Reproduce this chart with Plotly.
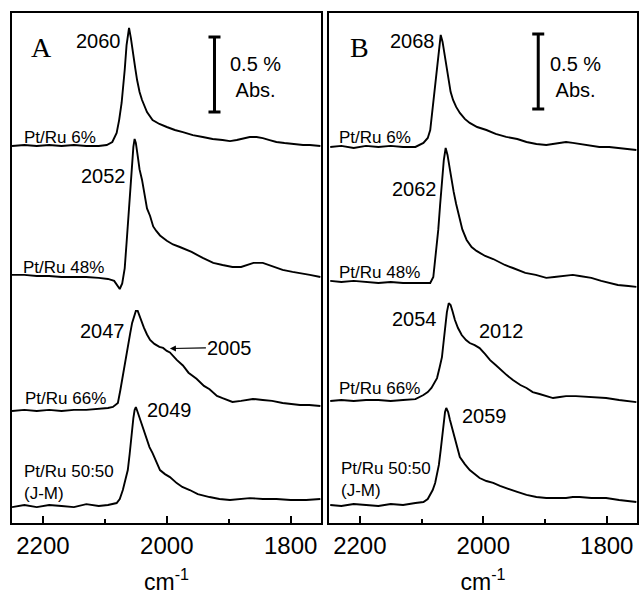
import plotly.graph_objects as go

# ---------------- data (wavenumber in cm-1, absorbance in % relative to each baseline) -------------
A1_WN = [2250,2230,2210,2190,2170,2150,2130,2110,2097,2088,2081,2077,2073,2070,2068,2065,2061,2058,2055,2051,2048,2044,2040,2036,2032,2023,2012,2000,1987,1974,1958,1942,1926,1910,1898,1887,1876,1866,1855,1845,1834,1823,1810,1797,1780,1769,1752]
A1_ABS = [0,0.007,0,0.007,0,0.007,0,0,0.007,0.027,0.087,0.173,0.287,0.407,0.507,0.673,0.787,0.720,0.620,0.520,0.440,0.360,0.307,0.260,0.227,0.173,0.147,0.127,0.107,0.093,0.073,0.060,0.047,0.040,0.033,0.040,0.053,0.060,0.060,0.053,0.040,0.027,0.020,0.013,0.007,0.007,0.000]

A2_WN = [2250,2230,2210,2190,2170,2150,2130,2110,2095,2085,2080,2076,2072,2068,2065,2062,2059,2057,2054,2052,2050,2047,2044,2040,2036,2032,2027,2022,2017,2011,2000,1990,1979,1960,1942,1925,1910,1894,1880,1870,1860,1845,1830,1813,1797,1785,1769,1752]
A2_ABS = [0.007,0.007,0,0,-0.007,-0.007,-0.007,-0.013,-0.020,-0.033,-0.060,-0.087,-0.050,0.050,0.220,0.400,0.580,0.720,0.860,0.913,0.887,0.800,0.710,0.640,0.540,0.450,0.400,0.330,0.300,0.270,0.235,0.210,0.193,0.160,0.120,0.087,0.073,0.060,0.060,0.073,0.087,0.087,0.067,0.040,0.027,0.020,0.007,-0.007]

A3_WN = [2250,2230,2210,2190,2170,2150,2130,2110,2095,2087,2082,2079,2075,2071,2068,2063,2059,2056,2053,2050,2047,2044,2041,2037,2032,2027,2020,2012,2006,2000,1995,1984,1974,1965,1952,1940,1931,1919,1910,1894,1880,1861,1845,1830,1813,1797,1785,1770,1752]
A3_ABS = [0,0.007,0,0.007,0,0.007,0.007,0.013,0.020,0.027,0.040,0.053,0.140,0.240,0.320,0.427,0.520,0.587,0.633,0.667,0.667,0.633,0.593,0.555,0.510,0.473,0.447,0.427,0.420,0.400,0.390,0.340,0.303,0.255,0.215,0.167,0.145,0.100,0.085,0.060,0.067,0.080,0.073,0.067,0.053,0.047,0.040,0.040,0.033]

A4_WN = [2250,2230,2210,2190,2170,2150,2130,2110,2095,2085,2081,2076,2071,2067,2063,2060,2057,2054,2052,2050,2047,2044,2040,2036,2032,2028,2023,2017,2011,2003,1995,1984,1975,1963,1950,1931,1915,1898,1880,1866,1845,1823,1800,1775,1752]
A4_ABS = [-0.007,0.007,-0.007,0.007,0,-0.007,0.013,0,0.007,0.013,0.020,0.047,0.107,0.173,0.240,0.347,0.480,0.587,0.640,0.660,0.625,0.590,0.545,0.493,0.440,0.393,0.353,0.293,0.240,0.213,0.193,0.153,0.127,0.107,0.080,0.060,0.047,0.040,0.047,0.053,0.047,0.047,0.040,0.040,0.047]

B1_WN = [2248,2230,2210,2190,2170,2150,2130,2110,2097,2090,2086,2081,2078,2075,2072,2069,2066,2062,2057,2053,2049,2044,2038,2030,2022,2010,1995,1980,1963,1945,1930,1914,1898,1885,1876,1866,1855,1844,1828,1812,1796,1780,1765,1752]
B1_ABS = [0,0.007,-0.007,0.007,0,0.007,0,0,0.027,0.060,0.113,0.293,0.413,0.533,0.660,0.747,0.700,0.587,0.447,0.367,0.313,0.267,0.227,0.187,0.160,0.133,0.113,0.087,0.067,0.053,0.033,0.020,0.013,0.020,0.027,0.033,0.027,0.020,0.013,0,0,-0.007,-0.013,-0.020]

B2_WN = [2248,2230,2210,2190,2170,2150,2130,2110,2095,2086,2081,2077,2073,2070,2067,2064,2061,2058,2054,2051,2048,2044,2040,2034,2027,2019,2011,1997,1984,1965,1952,1932,1915,1898,1885,1868,1855,1844,1825,1809,1795,1782,1765,1752]
B2_ABS = [0.007,0,0.007,0,-0.007,0,-0.007,-0.007,-0.007,-0.007,0.033,0.180,0.347,0.513,0.680,0.813,0.893,0.847,0.747,0.660,0.600,0.520,0.450,0.350,0.280,0.233,0.207,0.173,0.153,0.113,0.093,0.060,0.047,0.027,0.033,0.040,0.047,0.040,0.027,0.007,-0.007,-0.020,-0.027,-0.033]

B3_WN = [2248,2230,2210,2190,2170,2150,2130,2110,2097,2090,2084,2080,2075,2071,2067,2064,2062,2059,2056,2053,2050,2046,2041,2035,2028,2022,2014,2006,1997,1989,1980,1973,1962,1952,1940,1930,1920,1909,1898,1887,1876,1866,1850,1833,1815,1801,1780,1765,1752]
B3_ABS = [0,0.007,0,0.007,0.007,0,0.007,0.013,0.040,0.060,0.087,0.113,0.153,0.220,0.293,0.407,0.493,0.593,0.653,0.640,0.600,0.540,0.487,0.440,0.407,0.387,0.373,0.353,0.313,0.273,0.240,0.213,0.173,0.140,0.107,0.087,0.060,0.047,0.033,0.020,0.027,0.033,0.033,0.027,0.020,0.020,0.007,0,-0.007]

B4_WN = [2248,2230,2210,2190,2170,2150,2130,2110,2097,2090,2086,2082,2078,2075,2072,2069,2067,2064,2062,2060,2057,2054,2050,2046,2042,2038,2030,2022,2014,2006,1995,1984,1973,1962,1945,1930,1914,1898,1880,1866,1855,1844,1825,1801,1780,1765,1752]
B4_ABS = [0,-0.007,0.007,0,-0.007,0.007,0,0.013,0.020,0.040,0.067,0.100,0.147,0.200,0.267,0.367,0.453,0.567,0.620,0.647,0.620,0.567,0.500,0.433,0.373,0.320,0.273,0.233,0.207,0.180,0.160,0.147,0.127,0.113,0.087,0.067,0.053,0.047,0.047,0.047,0.053,0.053,0.047,0.047,0.033,0.027,0.020]

OFFSETS_A = [2.513, 1.647, 0.747, 0.113]
OFFSETS_B = [2.507, 1.607, 0.813, 0.120]

SAMPLE_LABELS = ["Pt/Ru 6%", "Pt/Ru 48%", "Pt/Ru 66%", "Pt/Ru 50:50<br>(J-M)"]

X_RANGE = [2250, 1751]
Y_RANGE = [0, 3.4]
MAJOR_TICKS = [2200, 2000, 1800]
MINOR_TICKS = [2100, 1900]

SCALE_BAR_LEN = 0.5          # % Abs
SCALE_BAR_A = (1923, 2.99)   # (wavenumber, centre)
SCALE_BAR_B = (1911, 3.01)

# peak labels: (text, wavenumber, y, xanchor)
PEAKS_A = [("2060", 2071, 3.213, "right"), ("2052", 2063, 2.313, "right"),
           ("2047", 2064, 1.280, "right"), ("2049", 2036, 0.753, "left")]
PEAKS_B = [("2068", 2075, 3.213, "right"), ("2062", 2072, 2.227, "right"),
           ("2054", 2072, 1.360, "right"), ("2012", 1971, 1.280, "center"),
           ("2059", 2037, 0.713, "left")]
SAMPLE_POS_A = [(2234, 2.573), (2235, 1.703), (2232, 0.833), (2234, 0.27)]
SAMPLE_POS_B = [(2237, 2.567), (2237, 1.667), (2237, 0.900), (2233, 0.287)]

SANS = "Liberation Sans, Arial, Helvetica, sans-serif"
SERIF = "Liberation Serif, Times New Roman, serif"

fig = go.Figure()

panels = [
    ("x", "y", [(A1_WN, A1_ABS), (A2_WN, A2_ABS), (A3_WN, A3_ABS), (A4_WN, A4_ABS)], OFFSETS_A),
    ("x2", "y2", [(B1_WN, B1_ABS), (B2_WN, B2_ABS), (B3_WN, B3_ABS), (B4_WN, B4_ABS)], OFFSETS_B),
]
for xa, ya, spectra, offs in panels:
    for (wn, ab), off in zip(spectra, offs):
        assert len(wn) == len(ab)
        fig.add_trace(go.Scatter(x=wn, y=[v + off for v in ab], mode="lines",
                                 line=dict(color="black", width=1.9),
                                 xaxis=xa, yaxis=ya, showlegend=False, hoverinfo="skip"))

# scale bars
for (wn, yc), xa, ya in [(SCALE_BAR_A, "x", "y"), (SCALE_BAR_B, "x2", "y2")]:
    fig.add_trace(go.Scatter(x=[wn], y=[yc], mode="markers",
                             marker=dict(size=1, color="rgba(0,0,0,0)"),
                             error_y=dict(type="data", array=[SCALE_BAR_LEN / 2], symmetric=True,
                                          width=6, thickness=3, color="black"),
                             xaxis=xa, yaxis=ya, showlegend=False, hoverinfo="skip"))

ann = []
def txt(text, x, y, xref, yref, size=20, xanchor="center", family=SANS, align="left"):
    ann.append(dict(text=text, x=x, y=y, xref=xref, yref=yref, showarrow=False,
                    xanchor=xanchor, yanchor="middle", align=align,
                    font=dict(size=size, family=family, color="black")))

# panel letters
txt("A", 2202, 3.167, "x", "y", size=28, family=SERIF)
txt("B", 2200, 3.167, "x2", "y2", size=28, family=SERIF)
# scale bar texts
txt("0.5 %<br>Abs.", 1856, 2.975, "x", "y", size=20, align="center")
txt("0.5 %<br>Abs.", 1850, 2.975, "x2", "y2", size=20, align="center")

for t, x, y, anc in PEAKS_A:
    txt(t, x, y, "x", "y", size=20, xanchor=anc)
for t, x, y, anc in PEAKS_B:
    txt(t, x, y, "x2", "y2", size=20, xanchor=anc)
for lab, (x, y) in zip(SAMPLE_LABELS, SAMPLE_POS_A):
    txt(lab, x, y, "x", "y", size=17, xanchor="left")
for lab, (x, y) in zip(SAMPLE_LABELS, SAMPLE_POS_B):
    txt(lab, x, y, "x2", "y2", size=17, xanchor="left")

# shoulder 2005 with arrow
ann.append(dict(text="2005", x=1995, y=1.163, xref="x", yref="y", showarrow=True,
                ax=60, ay=-1, arrowhead=2, arrowsize=1, arrowwidth=1.2, arrowcolor="black",
                standoff=0, xanchor="center", yanchor="middle",
                font=dict(size=20, family=SANS, color="black")))

axis_common = dict(range=X_RANGE, showgrid=False, zeroline=False, showline=True, mirror=True,
                   linecolor="black", linewidth=1.5, ticks="inside", ticklen=7, tickwidth=1.5,
                   tickcolor="black", tickvals=MAJOR_TICKS,
                   minor=dict(tickvals=MINOR_TICKS, ticks="inside", ticklen=4, tickwidth=1.5,
                              tickcolor="black"),
                   tickfont=dict(size=24, family=SANS, color="black"),
                   title=dict(text="cm<sup>-1</sup>", font=dict(size=23, family=SANS, color="black"),
                              standoff=18))
yaxis_common = dict(range=Y_RANGE, showgrid=False, zeroline=False, showline=True, mirror=True,
                    linecolor="black", linewidth=1.5, ticks="", showticklabels=False)

fig.update_layout(
    width=639, height=595,
    margin=dict(l=12, r=2, t=13, b=72, autoexpand=False),
    paper_bgcolor="white", plot_bgcolor="white",
    xaxis=dict(domain=[0, 0.4944], anchor="y", **axis_common),
    xaxis2=dict(domain=[0.5072, 1.0], anchor="y2", **axis_common),
    yaxis=dict(domain=[0, 1], anchor="x", **yaxis_common),
    yaxis2=dict(domain=[0, 1], anchor="x2", **yaxis_common),
    annotations=ann,
    showlegend=False,
)

# remove the default page margin so the 639x595 figure fills the window exactly
fig.write_html("out.html", config={"displayModeBar": False},
               post_script="document.body.style.margin='0';document.body.style.overflow='hidden';")
